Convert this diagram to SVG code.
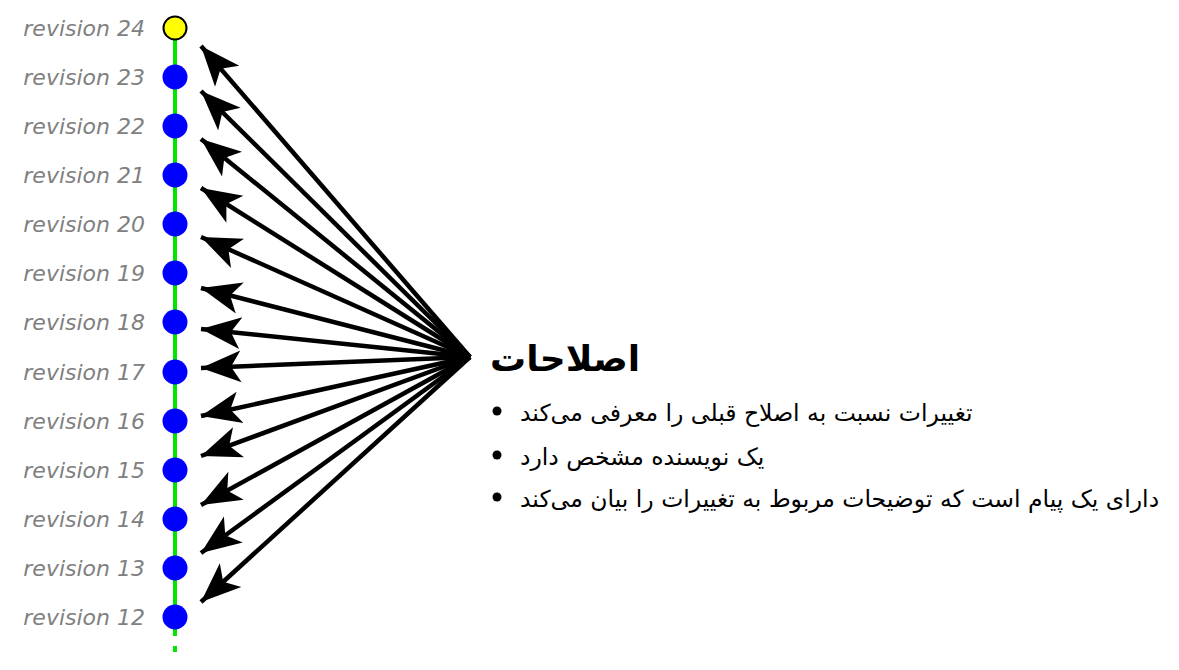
<svg xmlns="http://www.w3.org/2000/svg" width="1179" height="670" viewBox="0 0 1179 670">
<defs>
<style>
.rev{font-family:"DejaVu Sans",sans-serif;font-style:italic;font-size:22px;fill:#808080;text-anchor:end}
.n{fill:#0000ff}
.fa{font-family:"DejaVu Sans","Noto Sans",sans-serif;fill:#000}
.c line{stroke:#000;stroke-width:4.5;marker-end:url(#ah)}
</style>
<marker id="ah" markerUnits="userSpaceOnUse" viewBox="0 0 42 34" refX="40" refY="17" markerWidth="42" markerHeight="34" orient="auto">
<path d="M0,1 L40,17 L0,33 L10,17 Z" fill="#000"/>
</marker>
</defs>
<rect width="1179" height="670" fill="#fff"/>
<g id="trunk">
<line x1="175" y1="38" x2="175" y2="636" stroke="#00e600" stroke-width="4"/>
<line x1="175" y1="646" x2="175" y2="652" stroke="#00e600" stroke-width="4"/>
</g>
<g class="c" id="connectors">
<line x1="470" y1="357" x2="201" y2="46"/>
<line x1="470" y1="357" x2="201" y2="91"/>
<line x1="470" y1="357" x2="201" y2="139"/>
<line x1="470" y1="357" x2="201" y2="188"/>
<line x1="470" y1="357" x2="201" y2="237"/>
<line x1="470" y1="357" x2="201" y2="288"/>
<line x1="470" y1="357" x2="201" y2="329"/>
<line x1="470" y1="357" x2="201" y2="368"/>
<line x1="470" y1="357" x2="201" y2="416"/>
<line x1="470" y1="357" x2="201" y2="456"/>
<line x1="470" y1="357" x2="201" y2="505"/>
<line x1="470" y1="357" x2="201" y2="553"/>
<line x1="470" y1="357" x2="201" y2="602"/>
</g>
<g id="r24"><circle cx="175" cy="28" r="11.5" fill="#ffff00" stroke="#000" stroke-width="2"/><text class="rev" x="145" y="36">revision 24</text></g>
<g id="r23"><circle class="n" cx="175" cy="77" r="12.5"/><text class="rev" x="145" y="85">revision 23</text></g>
<g id="r22"><circle class="n" cx="175" cy="126" r="12.5"/><text class="rev" x="145" y="134">revision 22</text></g>
<g id="r21"><circle class="n" cx="175" cy="175" r="12.5"/><text class="rev" x="145" y="183">revision 21</text></g>
<g id="r20"><circle class="n" cx="175" cy="224" r="12.5"/><text class="rev" x="145" y="232">revision 20</text></g>
<g id="r19"><circle class="n" cx="175" cy="273" r="12.5"/><text class="rev" x="145" y="281">revision 19</text></g>
<g id="r18"><circle class="n" cx="175" cy="322" r="12.5"/><text class="rev" x="145" y="330">revision 18</text></g>
<g id="r17"><circle class="n" cx="175" cy="372" r="12.5"/><text class="rev" x="145" y="380">revision 17</text></g>
<g id="r16"><circle class="n" cx="175" cy="421" r="12.5"/><text class="rev" x="145" y="429">revision 16</text></g>
<g id="r15"><circle class="n" cx="175" cy="470" r="12.5"/><text class="rev" x="145" y="478">revision 15</text></g>
<g id="r14"><circle class="n" cx="175" cy="519" r="12.5"/><text class="rev" x="145" y="527">revision 14</text></g>
<g id="r13"><circle class="n" cx="175" cy="568" r="12.5"/><text class="rev" x="145" y="576">revision 13</text></g>
<g id="r12"><circle class="n" cx="175" cy="617" r="12.5"/><text class="rev" x="145" y="625">revision 12</text></g>
<g id="desc">
<text class="fa" x="490" y="371" font-size="36" font-weight="bold">اصلاحات</text>
<circle cx="497" cy="411" r="4.5"/>
<circle cx="497" cy="455" r="4.5"/>
<circle cx="497" cy="497" r="4.5"/>
<text class="fa" x="520" y="421" font-size="23.5">تغییرات نسبت به اصلاح قبلی را معرفی می‌کند</text>
<text class="fa" x="520" y="465" font-size="23.5">یک نویسنده مشخص دارد</text>
<text class="fa" x="520" y="507" font-size="23.5">دارای یک پیام است که توضیحات مربوط به تغییرات را بیان می‌کند</text>
</g>
</svg>
